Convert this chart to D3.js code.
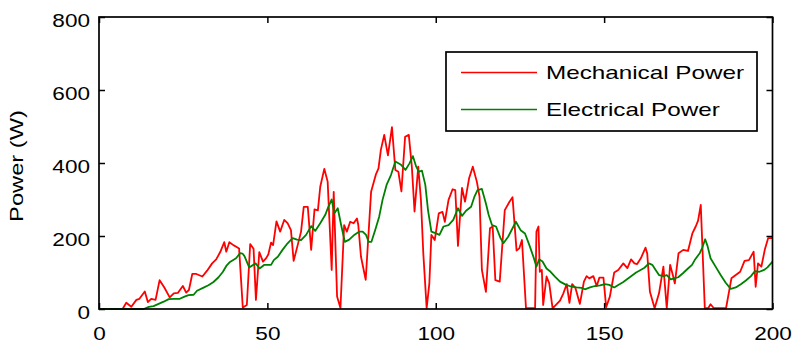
<!DOCTYPE html>
<html>
<head>
<meta charset="utf-8">
<script src="https://cdn.jsdelivr.net/npm/d3@7"></script>
<style>
    body { margin: 0; background: #fff; }
    text { font-family: "Liberation Sans", Arial, sans-serif; }
</style>
</head>
<body>
<div id="grafico"></div>
<script>
// Mechanical power (red), sample time / value pairs
const mechT = [0, 7, 8.1, 9.6, 11.1, 12, 13.6, 14.5, 15.5, 16.8, 18, 19.4, 21, 22.2, 23.4, 24.9, 25.9, 26.7, 27.7, 28.9,
    30.7, 32.1, 33.6, 34.8, 36, 37.2, 37.8, 38.7, 39.9, 40.5, 41.6, 42.7, 43.9, 44.9, 45.9, 46.6, 47.6, 48.7, 49.7, 50.3,
    51.1, 51.7, 52.7, 53.8, 55, 56, 57, 57.8, 59, 60, 60.8, 62, 63, 64, 65, 65.7, 66.9, 67.9, 69.1, 69.7,
    70.7, 71.7, 72.8, 73.6, 74.6, 75.6, 76.6, 77, 77.8, 79.2, 80.8, 82.2, 83, 83.7, 84.7, 85.8, 87, 88, 88.9, 89.8,
    90.9, 92, 92.9, 93.7, 94.8, 95.6, 96.3, 97.3, 98.1, 98.7, 99.7, 100.9, 102, 102.7, 103.8, 105, 105.8, 106.6, 107.8, 108.7,
    109.9, 111, 112.2, 113, 113.7, 114.9, 116.1, 116.9, 117.7, 119, 120.5, 121.9, 122.8, 124, 124.8, 125.6, 126.8, 129.5, 129.9, 130.5,
    130.9, 131.5, 131.9, 132.9, 133.7, 134.7, 136.9, 137.9, 138.9, 139.7, 140.5, 141.5, 142.8, 144, 144.8, 145.6, 146.8, 147.8, 148.6, 149.8,
    150.6, 151.7, 153, 154.2, 155.7, 156.9, 158, 159, 159.8, 160.9, 162.3, 162.8, 163.6, 165, 166.3, 167.6, 168.6, 169.6, 170.4, 171,
    172.1, 173.5, 174.9, 176.2, 177.2, 177.9, 178.7, 179.9, 180.9, 181.6, 182.6, 186.2, 187.8, 189.1, 190.4, 191.7, 193, 194.4, 195, 195.7,
    196.7, 197.7, 198.7, 200];
const mechP = [0, 0, 17, 6, 25, 28, 48, 19, 28, 25, 79, 59, 32, 43, 44, 63, 45, 52, 96, 96,
    89, 105, 125, 136, 156, 183, 157, 183, 175, 172, 166, 4, 11, 178, 165, 25, 156, 130, 140, 150,
    182, 175, 240, 212, 244, 235, 216, 132, 175, 212, 280, 280, 162, 273, 270, 335, 384, 349, 107, 321,
    34, 3, 230, 212, 239, 235, 248, 230, 143, 80, 321, 368, 385, 436, 477, 421, 498, 381, 376, 322,
    472, 477, 390, 267, 390, 299, 153, 2, 70, 203, 189, 262, 266, 239, 299, 328, 326, 173, 332, 294,
    358, 390, 349, 308, 107, 47, 221, 226, 79, 75, 271, 294, 306, 160, 166, 189, 2, 2, 212, 226,
    102, 107, 11, 89, 70, 2, 23, 43, 68, 17, 68, 57, 14, 75, 90, 84, 90, 63, 86, 86,
    5, 34, 100, 107, 125, 112, 136, 125, 123, 139, 168, 152, 47, 2, 43, 116, 2, 121, 93, 70,
    153, 162, 159, 207, 226, 242, 285, 2, 2, 13, 2, 2, 84, 93, 102, 132, 134, 157, 61, 125,
    116, 162, 194, 194];

// Electrical power (green)
const elecT = [0, 13.3, 14.8, 16.2, 17.7, 19.2, 20.7, 22.2, 24, 25.4, 26.6, 28.1, 29.1, 30.9, 32.5, 34, 35.5, 36.8, 37.8, 38.9,
    40.7, 41.9, 42.6, 43.2, 44.6, 46.5, 47.7, 49.1, 51.1, 51.9, 53.1, 54.5, 56, 57.5, 58.8, 60, 61.5, 63, 64.2, 65.7,
    67.2, 68.1, 69.1, 69.9, 70.9, 71.9, 73, 74.3, 75.8, 77.3, 78.3, 79.3, 80.1, 80.9, 82, 83.2, 84.2, 85.4, 86.7, 88,
    89.7, 91, 92.2, 93.2, 94.2, 95, 95.9, 96.9, 97.7, 98.7, 100.1, 101.1, 102.3, 103.8, 105.2, 106.6, 107.8, 109, 110.5, 111.5,
    112.4, 113.7, 114.9, 115.7, 116.7, 117.9, 119.2, 120.1, 121.5, 123.8, 125.2, 126.5, 127.8, 129, 129.9, 130.7, 131.7, 132.9, 134.1, 135.4,
    136.9, 138.7, 140.4, 141.8, 143.3, 144.3, 145.8, 147.3, 148.8, 150.3, 151.5, 153, 154.2, 155.7, 157.2, 158.5, 159.5, 160.3, 162, 163.3,
    164.3, 165.3, 166.3, 167.6, 168.6, 169.8, 170.8, 172, 173.4, 174.9, 176.1, 176.9, 178.4, 179.2, 180, 180.7, 181.6, 183.1, 184.6, 186.1,
    187.6, 189.1, 190.6, 192.1, 193.6, 194.8, 196.1, 197.5, 198.5, 200];
const elecP = [0, 0, 6, 8, 14, 20, 27, 28, 28, 34, 38, 39, 50, 58, 65, 74, 87, 102, 118, 129,
    139, 153, 152, 145, 114, 125, 111, 121, 121, 134, 143, 162, 180, 194, 190, 189, 203, 227, 214, 235,
    258, 280, 300, 262, 276, 230, 184, 190, 203, 212, 212, 203, 184, 184, 216, 253, 299, 340, 367, 404,
    395, 381, 399, 419, 390, 376, 379, 340, 271, 212, 207, 203, 226, 230, 244, 276, 255, 269, 280, 308,
    326, 329, 289, 258, 230, 226, 195, 180, 198, 239, 216, 207, 175, 143, 116, 136, 130, 111, 102, 89,
    75, 66, 61, 59, 58, 54, 59, 63, 65, 68, 66, 59, 66, 74, 84, 93, 100, 104, 113, 125,
    121, 107, 93, 90, 93, 81, 84, 87, 98, 111, 121, 134, 153, 169, 191, 173, 139, 116, 93, 72,
    55, 59, 68, 78, 90, 104, 102, 107, 114, 130];

const xTicks = [0, 50, 100, 150, 200];
const yTicks = [0, 200, 400, 600, 800];
const series = ["Mechanical Power", "Electrical Power"];
const colores = ["#ff0000", "#008000"];

dibujar();

function dibujar() {
    const svgWidth = 796, svgHeight = 346;
    const margin = { top: 17, right: 23.5, bottom: 37, left: 99 };
    const width = svgWidth - margin.left - margin.right;
    const height = svgHeight - margin.top - margin.bottom;

    const svg = d3.select("#grafico")
        .append("svg")
        .attr("width", svgWidth)
        .attr("height", svgHeight)
        .append("g")
        .attr("transform", `translate(${margin.left}, ${margin.top})`);

    const x = d3.scaleLinear().domain([0, 200]).range([0, width]);
    const y = d3.scaleLinear().domain([0, 800]).range([height, 0]);

    // the source font is drawn wider than Arial, so stretch the labels
    function estirar(sel, factor) {
        sel.each(function () {
            const w = this.getComputedTextLength();
            d3.select(this).attr("textLength", w * factor).attr("lengthAdjust", "spacingAndGlyphs");
        });
    }

    const linea = d3.line().x(d => x(d[0])).y(d => y(d[1]));
    const mech = mechT.map((t, i) => [t, mechP[i]]);
    const elec = elecT.map((t, i) => [t, elecP[i]]);

    svg.append("path").datum(mech)
        .attr("d", linea)
        .attr("fill", "none")
        .attr("stroke", colores[0])
        .attr("stroke-width", 1.8)
        .attr("stroke-linejoin", "round");

    svg.append("path").datum(elec)
        .attr("d", linea)
        .attr("fill", "none")
        .attr("stroke", colores[1])
        .attr("stroke-width", 1.8)
        .attr("stroke-linejoin", "round");

    // Ejes (ticks hacia dentro, como MATLAB)
    const ejeX = svg.append("g")
        .attr("transform", `translate(0, ${height})`)
        .call(d3.axisBottom(x).tickValues(xTicks).tickSizeInner(-6).tickSizeOuter(0).tickPadding(18));
    const ejeY = svg.append("g")
        .call(d3.axisLeft(y).tickValues(yTicks).tickSizeInner(-6).tickSizeOuter(0).tickPadding(9));
    svg.append("g")
        .call(d3.axisTop(x).tickValues(xTicks).tickSizeInner(-6).tickSizeOuter(0).tickFormat(""));
    svg.append("g")
        .attr("transform", `translate(${width}, 0)`)
        .call(d3.axisRight(y).tickValues(yTicks).tickSizeInner(-6).tickSizeOuter(0).tickFormat(""));

    svg.selectAll(".domain").remove();
    svg.selectAll(".tick line").attr("stroke", "#000").attr("stroke-width", 1.5);

    ejeX.selectAll("text").style("font-size", "18.5px").attr("fill", "#000");
    ejeY.selectAll("text").style("font-size", "18.5px").attr("fill", "#000").attr("dy", "0.5em");
    estirar(ejeX.selectAll("text"), 1.22);
    estirar(ejeY.selectAll("text"), 1.22);

    svg.append("rect")
        .attr("width", width)
        .attr("height", height)
        .attr("fill", "none")
        .attr("stroke", "#000")
        .attr("stroke-width", 1.7);

    svg.append("text")
        .attr("transform", `translate(${23 - margin.left}, ${166 - margin.top}) rotate(-90)`)
        .attr("text-anchor", "middle")
        .style("font-size", "18.5px")
        .text("Power (W)")
        .call(estirar, 1.28);

    // Leyenda
    const legend = svg.append("g")
        .attr("transform", `translate(${446 - margin.left}, ${52 - margin.top})`);

    legend.append("rect")
        .attr("width", 311)
        .attr("height", 79)
        .attr("fill", "#fff")
        .attr("stroke", "#000")
        .attr("stroke-width", 1.7);

    series.forEach((s, i) => {
        const yy = 20.5 + i * 37;
        legend.append("line")
            .attr("x1", 15).attr("x2", 91)
            .attr("y1", yy).attr("y2", yy)
            .attr("stroke", colores[i])
            .attr("stroke-width", 1.6);
        legend.append("text")
            .attr("x", 100)
            .attr("y", yy + 6.5)
            .style("font-size", "18.5px")
            .text(s)
            .call(estirar, 1.31);
    });
}
</script>
</body>
</html>
